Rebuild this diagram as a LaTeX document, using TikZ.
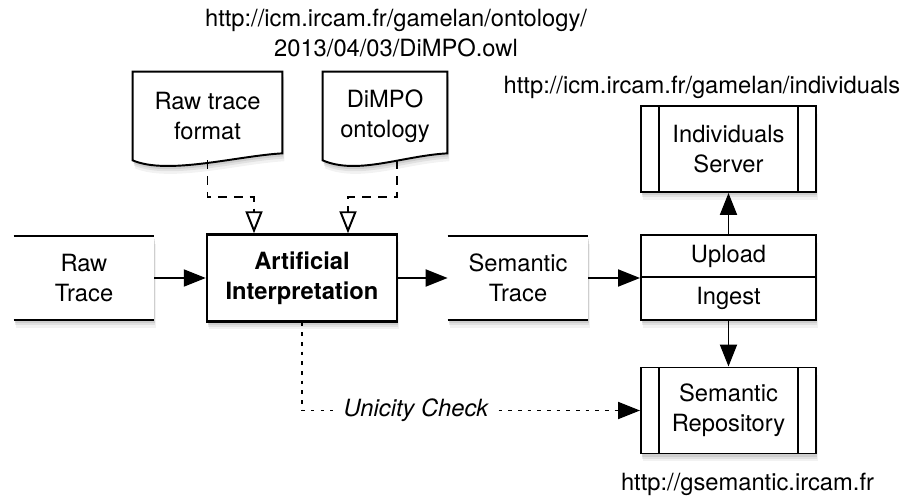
\documentclass[tikz,border=0pt]{standalone}
\usepackage{fontspec}
\setmainfont{TeX Gyre Heros}
\usetikzlibrary{arrows.meta,positioning,calc,backgrounds,shadows}

\begin{document}
\begin{tikzpicture}[
    font=\fontsize{13.5}{17}\selectfont,
    softshadow/.style={drop shadow={shadow xshift=1.2pt, shadow yshift=-4.5pt, opacity=.1},
                       drop shadow={shadow xshift=0.8pt, shadow yshift=-3pt, opacity=.15},
                       drop shadow={shadow xshift=0.5pt, shadow yshift=-1.8pt, opacity=.2}},
    store/.style={fill=white, softshadow, minimum width=2.8cm, minimum height=1.68cm, align=center},
    proc/.style={draw, line width=1.4pt, fill=white, softshadow, minimum width=3.8cm, minimum height=1.74cm, align=center, font=\fontsize{13.5}{17}\selectfont\bfseries},
    server/.style={draw, line width=1.1pt, fill=white, softshadow, minimum width=3.5cm, minimum height=1.72cm, align=center,
        path picture={\draw[line width=1.1pt] ([xshift=0.36cm]path picture bounding box.north west) -- ([xshift=0.36cm]path picture bounding box.south west)
            ([xshift=-0.36cm]path picture bounding box.north east) -- ([xshift=-0.36cm]path picture bounding box.south east);}},
    part/.style={draw, line width=1.1pt, fill=white, softshadow, minimum width=3.5cm, minimum height=0.85cm},
    doc/.style={minimum width=2.98cm, minimum height=1.76cm, align=center},
    url/.style={align=center},
    flow/.style={line width=1.1pt, -{Triangle[length=0.44cm, width=0.34cm]}},
    uses/.style={line width=1.1pt, dash pattern=on 5pt off 4pt, -{Triangle[open, length=0.44cm, width=0.34cm]}},
    check/.style={line width=1.1pt, dash pattern=on 2pt off 3.5pt}
]
\useasboundingbox (0,0) rectangle (18.1,9.98);

% URLs
\node[url] (onturl) at (7.92,9.32) {http://icm.ircam.fr/gamelan/ontology/\\2013/04/03/DiMPO.owl};
\node[url] (indurl) at (14.04,8.24) {http://icm.ircam.fr/gamelan/individuals};
\node[url] (semurl) at (14.95,0.3) {http://gsemantic.ircam.fr};

% Documents
\node[doc] (rtfmt) at (4.15,7.66) {Raw trace\\format};
\node[doc, minimum width=2.48cm] (dimpo) at (7.7,7.66) {DiMPO\\ontology};
\begin{scope}[on background layer]
\foreach \d in {rtfmt, dimpo}
    \draw[line width=1.1pt, fill=white, softshadow] (\d.south west) .. controls +(0.7,-0.3) and +(-0.9,-0.05) .. ($(\d.south east)+(0,0.14)$) -- (\d.north east) -- (\d.north west) -- cycle;
\end{scope}

% Main chain
\node[store] (rawtr) at (1.68,4.42) {Raw\\Trace};
\node[proc] (ai) at (6.04,4.42) {Artificial\\Interpretation};
\node[store] (semtr) at (10.36,4.42) {Semantic\\Trace};
\foreach \n in {rawtr, semtr}
    \draw[line width=1.1pt] (\n.north west) -- (\n.north east) (\n.south west) -- (\n.south east);

\node[part] (upload) at (14.57,4.86) {Upload};
\node[part] (ingest) at (14.57,4.01) {Ingest};
\node[server] (indiv) at (14.57,7.0) {Individuals\\Server};
\node[server] (semrep) at (14.57,1.77) {Semantic\\Repository};

% Connectors
\draw[uses] (rtfmt.south) -- ++(0,-0.74) -| ([xshift=-0.96cm]ai.north);
\draw[uses] ([xshift=0.24cm]dimpo.south) -- ++(0,-0.74) -| ([xshift=0.92cm]ai.north);

\draw[flow] (rawtr.east) -- (ai.west);
\draw[flow] (ai.east) -- (semtr.west);
\draw[flow] (semtr.east) -- (semtr.east -| upload.west);
\draw[flow] (upload.north) -- (indiv.south);
\draw[flow] (ingest.south) -- (semrep.north);

% Unicity check
\node[font=\fontsize{13.5}{17}\selectfont\itshape, inner sep=0.2cm] (unic) at (8.32,1.77) {Unicity Check};
\draw[check] (ai.south) |- (unic.west);
\draw[check, -{Triangle[length=0.44cm, width=0.34cm]}] (unic.east) -- (semrep.west);

\end{tikzpicture}
\end{document}
